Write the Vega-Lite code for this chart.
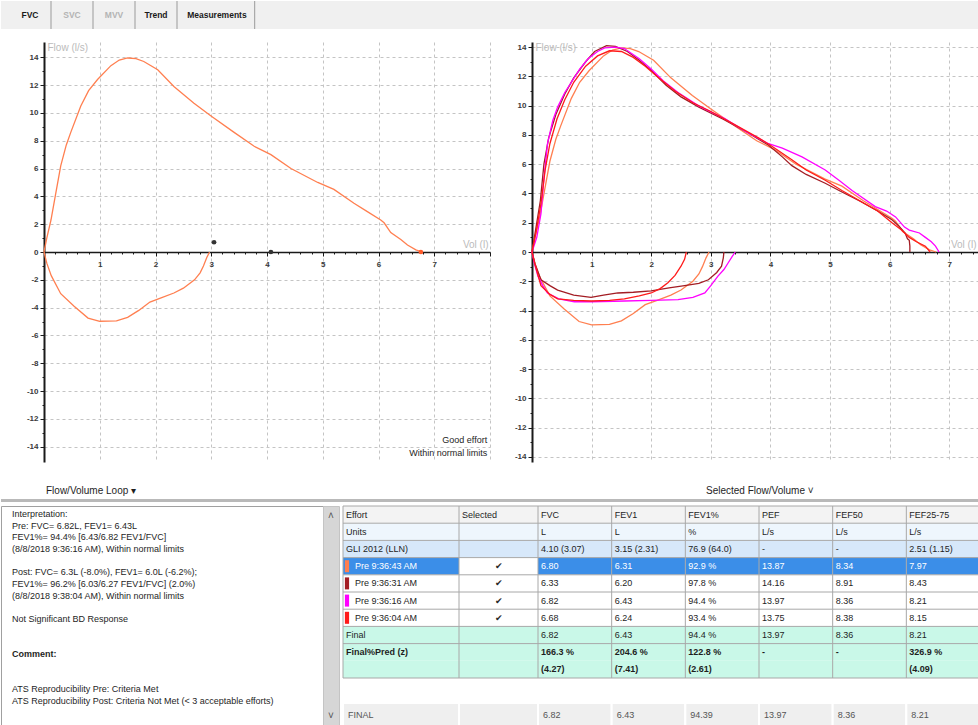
{
  "$schema": "https://vega.github.io/schema/vega-lite/v6.json",
  "padding": 0,
  "background": "#FFFFFF",
  "config": {
    "font": "Liberation Sans",
    "view": {"stroke": null},
    "concat": {"spacing": 0}
  },
  "datasets": {
    "tabs": [
      {"tab": "FVC", "enabled": true},
      {"tab": "SVC", "enabled": false},
      {"tab": "MVV", "enabled": false},
      {"tab": "Trend", "enabled": true},
      {"tab": "Measurements", "enabled": true}
    ],
    "notes": [{"note": "Good effort\nWithin normal limits"}],
    "markers": [
      {"kind": "dot", "vol": 3.05, "flow": 0.7},
      {"kind": "dot", "vol": 4.07, "flow": 0},
      {"kind": "end", "vol": 6.76, "flow": 0}
    ],
    "curves": [
      {"effort":"p43","part":"e","i":0,"vol":0,"flow":0},
      {"effort":"p43","part":"e","i":1,"vol":0.05,"flow":1.0},
      {"effort":"p43","part":"e","i":2,"vol":0.125,"flow":2.3},
      {"effort":"p43","part":"e","i":3,"vol":0.21,"flow":4.2},
      {"effort":"p43","part":"e","i":4,"vol":0.3,"flow":6.2},
      {"effort":"p43","part":"e","i":5,"vol":0.4,"flow":7.7},
      {"effort":"p43","part":"e","i":6,"vol":0.48,"flow":8.6},
      {"effort":"p43","part":"e","i":7,"vol":0.66,"flow":10.5},
      {"effort":"p43","part":"e","i":8,"vol":0.8,"flow":11.6},
      {"effort":"p43","part":"e","i":9,"vol":0.96,"flow":12.4},
      {"effort":"p43","part":"e","i":10,"vol":1.2,"flow":13.4},
      {"effort":"p43","part":"e","i":11,"vol":1.35,"flow":13.8},
      {"effort":"p43","part":"e","i":12,"vol":1.5,"flow":13.95},
      {"effort":"p43","part":"e","i":13,"vol":1.65,"flow":13.9},
      {"effort":"p43","part":"e","i":14,"vol":1.79,"flow":13.7},
      {"effort":"p43","part":"e","i":15,"vol":2.04,"flow":13.1},
      {"effort":"p43","part":"e","i":16,"vol":2.33,"flow":11.9},
      {"effort":"p43","part":"e","i":17,"vol":2.69,"flow":10.7},
      {"effort":"p43","part":"e","i":18,"vol":2.99,"flow":9.8},
      {"effort":"p43","part":"e","i":19,"vol":3.41,"flow":8.6},
      {"effort":"p43","part":"e","i":20,"vol":3.77,"flow":7.6},
      {"effort":"p43","part":"e","i":21,"vol":4.07,"flow":7.0},
      {"effort":"p43","part":"e","i":22,"vol":4.43,"flow":6.0},
      {"effort":"p43","part":"e","i":23,"vol":4.91,"flow":5.0},
      {"effort":"p43","part":"e","i":24,"vol":5.2,"flow":4.5},
      {"effort":"p43","part":"e","i":25,"vol":5.56,"flow":3.5},
      {"effort":"p43","part":"e","i":26,"vol":5.8,"flow":2.9},
      {"effort":"p43","part":"e","i":27,"vol":6.04,"flow":2.3},
      {"effort":"p43","part":"e","i":28,"vol":6.1,"flow":2.1},
      {"effort":"p43","part":"e","i":29,"vol":6.22,"flow":1.4},
      {"effort":"p43","part":"e","i":30,"vol":6.4,"flow":0.9},
      {"effort":"p43","part":"e","i":31,"vol":6.52,"flow":0.5},
      {"effort":"p43","part":"e","i":32,"vol":6.67,"flow":0.15},
      {"effort":"p43","part":"e","i":33,"vol":6.78,"flow":0},
      {"effort":"p43","part":"n","i":0,"vol":0,"flow":0},
      {"effort":"p43","part":"n","i":1,"vol":0.05,"flow":-0.8},
      {"effort":"p43","part":"n","i":2,"vol":0.13,"flow":-1.7},
      {"effort":"p43","part":"n","i":3,"vol":0.3,"flow":-3.0},
      {"effort":"p43","part":"n","i":4,"vol":0.54,"flow":-3.9},
      {"effort":"p43","part":"n","i":5,"vol":0.79,"flow":-4.75},
      {"effort":"p43","part":"n","i":6,"vol":1.0,"flow":-4.98},
      {"effort":"p43","part":"n","i":7,"vol":1.3,"flow":-4.95},
      {"effort":"p43","part":"n","i":8,"vol":1.5,"flow":-4.7},
      {"effort":"p43","part":"n","i":9,"vol":1.7,"flow":-4.2},
      {"effort":"p43","part":"n","i":10,"vol":1.9,"flow":-3.6},
      {"effort":"p43","part":"n","i":11,"vol":2.1,"flow":-3.3},
      {"effort":"p43","part":"n","i":12,"vol":2.33,"flow":-2.95},
      {"effort":"p43","part":"n","i":13,"vol":2.5,"flow":-2.6},
      {"effort":"p43","part":"n","i":14,"vol":2.7,"flow":-2.0},
      {"effort":"p43","part":"n","i":15,"vol":2.8,"flow":-1.5},
      {"effort":"p43","part":"n","i":16,"vol":2.86,"flow":-1.0},
      {"effort":"p43","part":"n","i":17,"vol":2.92,"flow":-0.4},
      {"effort":"p43","part":"n","i":18,"vol":2.97,"flow":0},
      {"effort":"p31","part":"e","i":0,"vol":0,"flow":0},
      {"effort":"p31","part":"e","i":1,"vol":0.06,"flow":1.5},
      {"effort":"p31","part":"e","i":2,"vol":0.14,"flow":3.5},
      {"effort":"p31","part":"e","i":3,"vol":0.2,"flow":6.0},
      {"effort":"p31","part":"e","i":4,"vol":0.28,"flow":7.8},
      {"effort":"p31","part":"e","i":5,"vol":0.4,"flow":9.4},
      {"effort":"p31","part":"e","i":6,"vol":0.55,"flow":10.8},
      {"effort":"p31","part":"e","i":7,"vol":0.7,"flow":11.9},
      {"effort":"p31","part":"e","i":8,"vol":0.9,"flow":13.0},
      {"effort":"p31","part":"e","i":9,"vol":1.05,"flow":13.7},
      {"effort":"p31","part":"e","i":10,"vol":1.25,"flow":14.1},
      {"effort":"p31","part":"e","i":11,"vol":1.4,"flow":14.05},
      {"effort":"p31","part":"e","i":12,"vol":1.6,"flow":13.7},
      {"effort":"p31","part":"e","i":13,"vol":1.8,"flow":13.1},
      {"effort":"p31","part":"e","i":14,"vol":2.0,"flow":12.4},
      {"effort":"p31","part":"e","i":15,"vol":2.25,"flow":11.4},
      {"effort":"p31","part":"e","i":16,"vol":2.5,"flow":10.6},
      {"effort":"p31","part":"e","i":17,"vol":2.8,"flow":9.9},
      {"effort":"p31","part":"e","i":18,"vol":3.2,"flow":9.1},
      {"effort":"p31","part":"e","i":19,"vol":3.6,"flow":8.2},
      {"effort":"p31","part":"e","i":20,"vol":3.97,"flow":7.3},
      {"effort":"p31","part":"e","i":21,"vol":4.2,"flow":6.5},
      {"effort":"p31","part":"e","i":22,"vol":4.36,"flow":5.9},
      {"effort":"p31","part":"e","i":23,"vol":4.6,"flow":5.3},
      {"effort":"p31","part":"e","i":24,"vol":4.92,"flow":4.7},
      {"effort":"p31","part":"e","i":25,"vol":5.2,"flow":4.1},
      {"effort":"p31","part":"e","i":26,"vol":5.49,"flow":3.5},
      {"effort":"p31","part":"e","i":27,"vol":5.8,"flow":2.8},
      {"effort":"p31","part":"e","i":28,"vol":6.04,"flow":2.2},
      {"effort":"p31","part":"e","i":29,"vol":6.15,"flow":1.8},
      {"effort":"p31","part":"e","i":30,"vol":6.26,"flow":1.3},
      {"effort":"p31","part":"e","i":31,"vol":6.3,"flow":0.9},
      {"effort":"p31","part":"e","i":32,"vol":6.33,"flow":0.8},
      {"effort":"p31","part":"e","i":33,"vol":6.34,"flow":0.4},
      {"effort":"p31","part":"e","i":34,"vol":6.34,"flow":0},
      {"effort":"p31","part":"n","i":0,"vol":0,"flow":0},
      {"effort":"p31","part":"n","i":1,"vol":0.05,"flow":-0.8},
      {"effort":"p31","part":"n","i":2,"vol":0.15,"flow":-1.9},
      {"effort":"p31","part":"n","i":3,"vol":0.3,"flow":-2.3},
      {"effort":"p31","part":"n","i":4,"vol":0.43,"flow":-2.6},
      {"effort":"p31","part":"n","i":5,"vol":0.7,"flow":-2.95},
      {"effort":"p31","part":"n","i":6,"vol":0.99,"flow":-3.1},
      {"effort":"p31","part":"n","i":7,"vol":1.2,"flow":-2.95},
      {"effort":"p31","part":"n","i":8,"vol":1.44,"flow":-2.8},
      {"effort":"p31","part":"n","i":9,"vol":1.7,"flow":-2.75},
      {"effort":"p31","part":"n","i":10,"vol":2.0,"flow":-2.65},
      {"effort":"p31","part":"n","i":11,"vol":2.3,"flow":-2.45},
      {"effort":"p31","part":"n","i":12,"vol":2.56,"flow":-2.3},
      {"effort":"p31","part":"n","i":13,"vol":2.8,"flow":-2.15},
      {"effort":"p31","part":"n","i":14,"vol":2.96,"flow":-1.9},
      {"effort":"p31","part":"n","i":15,"vol":3.1,"flow":-1.4},
      {"effort":"p31","part":"n","i":16,"vol":3.18,"flow":-0.97},
      {"effort":"p31","part":"n","i":17,"vol":3.21,"flow":-0.4},
      {"effort":"p31","part":"n","i":18,"vol":3.22,"flow":0},
      {"effort":"p16","part":"e","i":0,"vol":0,"flow":0},
      {"effort":"p16","part":"e","i":1,"vol":0.08,"flow":1.0},
      {"effort":"p16","part":"e","i":2,"vol":0.15,"flow":2.6},
      {"effort":"p16","part":"e","i":3,"vol":0.2,"flow":5.0},
      {"effort":"p16","part":"e","i":4,"vol":0.26,"flow":7.4},
      {"effort":"p16","part":"e","i":5,"vol":0.35,"flow":9.0},
      {"effort":"p16","part":"e","i":6,"vol":0.43,"flow":9.9},
      {"effort":"p16","part":"e","i":7,"vol":0.55,"flow":10.9},
      {"effort":"p16","part":"e","i":8,"vol":0.66,"flow":11.6},
      {"effort":"p16","part":"e","i":9,"vol":0.8,"flow":12.5},
      {"effort":"p16","part":"e","i":10,"vol":0.94,"flow":13.2},
      {"effort":"p16","part":"e","i":11,"vol":1.1,"flow":13.7},
      {"effort":"p16","part":"e","i":12,"vol":1.22,"flow":13.95},
      {"effort":"p16","part":"e","i":13,"vol":1.4,"flow":14.0},
      {"effort":"p16","part":"e","i":14,"vol":1.55,"flow":13.9},
      {"effort":"p16","part":"e","i":15,"vol":1.8,"flow":13.2},
      {"effort":"p16","part":"e","i":16,"vol":2.0,"flow":12.5},
      {"effort":"p16","part":"e","i":17,"vol":2.2,"flow":11.7},
      {"effort":"p16","part":"e","i":18,"vol":2.45,"flow":10.9},
      {"effort":"p16","part":"e","i":19,"vol":2.79,"flow":10.0},
      {"effort":"p16","part":"e","i":20,"vol":3.24,"flow":9.1},
      {"effort":"p16","part":"e","i":21,"vol":3.6,"flow":8.2},
      {"effort":"p16","part":"e","i":22,"vol":3.97,"flow":7.4},
      {"effort":"p16","part":"e","i":23,"vol":4.2,"flow":7.1},
      {"effort":"p16","part":"e","i":24,"vol":4.53,"flow":6.5},
      {"effort":"p16","part":"e","i":25,"vol":4.92,"flow":5.6},
      {"effort":"p16","part":"e","i":26,"vol":5.15,"flow":4.9},
      {"effort":"p16","part":"e","i":27,"vol":5.37,"flow":4.2},
      {"effort":"p16","part":"e","i":28,"vol":5.76,"flow":3.1},
      {"effort":"p16","part":"e","i":29,"vol":5.95,"flow":2.8},
      {"effort":"p16","part":"e","i":30,"vol":6.1,"flow":2.4},
      {"effort":"p16","part":"e","i":31,"vol":6.25,"flow":1.7},
      {"effort":"p16","part":"e","i":32,"vol":6.33,"flow":1.5},
      {"effort":"p16","part":"e","i":33,"vol":6.5,"flow":1.3},
      {"effort":"p16","part":"e","i":34,"vol":6.6,"flow":1.0},
      {"effort":"p16","part":"e","i":35,"vol":6.7,"flow":0.7},
      {"effort":"p16","part":"e","i":36,"vol":6.77,"flow":0.4},
      {"effort":"p16","part":"e","i":37,"vol":6.83,"flow":0},
      {"effort":"p16","part":"n","i":0,"vol":0,"flow":0},
      {"effort":"p16","part":"n","i":1,"vol":0.04,"flow":-0.8},
      {"effort":"p16","part":"n","i":2,"vol":0.1,"flow":-1.65},
      {"effort":"p16","part":"n","i":3,"vol":0.18,"flow":-2.3},
      {"effort":"p16","part":"n","i":4,"vol":0.26,"flow":-2.8},
      {"effort":"p16","part":"n","i":5,"vol":0.45,"flow":-3.2},
      {"effort":"p16","part":"n","i":6,"vol":0.71,"flow":-3.4},
      {"effort":"p16","part":"n","i":7,"vol":1.0,"flow":-3.4},
      {"effort":"p16","part":"n","i":8,"vol":1.55,"flow":-3.35},
      {"effort":"p16","part":"n","i":9,"vol":2.0,"flow":-3.3},
      {"effort":"p16","part":"n","i":10,"vol":2.45,"flow":-3.25},
      {"effort":"p16","part":"n","i":11,"vol":2.7,"flow":-3.1},
      {"effort":"p16","part":"n","i":12,"vol":2.9,"flow":-2.8},
      {"effort":"p16","part":"n","i":13,"vol":3.0,"flow":-2.3},
      {"effort":"p16","part":"n","i":14,"vol":3.12,"flow":-1.65},
      {"effort":"p16","part":"n","i":15,"vol":3.22,"flow":-1.2},
      {"effort":"p16","part":"n","i":16,"vol":3.29,"flow":-0.75},
      {"effort":"p16","part":"n","i":17,"vol":3.36,"flow":-0.3},
      {"effort":"p16","part":"n","i":18,"vol":3.41,"flow":0},
      {"effort":"p04","part":"e","i":0,"vol":0,"flow":0},
      {"effort":"p04","part":"e","i":1,"vol":0.07,"flow":1.4},
      {"effort":"p04","part":"e","i":2,"vol":0.15,"flow":3.3},
      {"effort":"p04","part":"e","i":3,"vol":0.22,"flow":5.6},
      {"effort":"p04","part":"e","i":4,"vol":0.3,"flow":7.4},
      {"effort":"p04","part":"e","i":5,"vol":0.42,"flow":9.1},
      {"effort":"p04","part":"e","i":6,"vol":0.55,"flow":10.4},
      {"effort":"p04","part":"e","i":7,"vol":0.7,"flow":11.6},
      {"effort":"p04","part":"e","i":8,"vol":0.9,"flow":12.7},
      {"effort":"p04","part":"e","i":9,"vol":1.1,"flow":13.4},
      {"effort":"p04","part":"e","i":10,"vol":1.3,"flow":13.75},
      {"effort":"p04","part":"e","i":11,"vol":1.5,"flow":13.7},
      {"effort":"p04","part":"e","i":12,"vol":1.7,"flow":13.3},
      {"effort":"p04","part":"e","i":13,"vol":1.9,"flow":12.7},
      {"effort":"p04","part":"e","i":14,"vol":2.1,"flow":12.0},
      {"effort":"p04","part":"e","i":15,"vol":2.4,"flow":11.0},
      {"effort":"p04","part":"e","i":16,"vol":2.7,"flow":10.2},
      {"effort":"p04","part":"e","i":17,"vol":3.0,"flow":9.6},
      {"effort":"p04","part":"e","i":18,"vol":3.4,"flow":8.7},
      {"effort":"p04","part":"e","i":19,"vol":3.8,"flow":7.8},
      {"effort":"p04","part":"e","i":20,"vol":4.0,"flow":7.3},
      {"effort":"p04","part":"e","i":21,"vol":4.36,"flow":6.3},
      {"effort":"p04","part":"e","i":22,"vol":4.6,"flow":5.6},
      {"effort":"p04","part":"e","i":23,"vol":4.92,"flow":4.9},
      {"effort":"p04","part":"e","i":24,"vol":5.2,"flow":4.2},
      {"effort":"p04","part":"e","i":25,"vol":5.5,"flow":3.5},
      {"effort":"p04","part":"e","i":26,"vol":5.8,"flow":2.8},
      {"effort":"p04","part":"e","i":27,"vol":6.04,"flow":2.0},
      {"effort":"p04","part":"e","i":28,"vol":6.2,"flow":1.5},
      {"effort":"p04","part":"e","i":29,"vol":6.33,"flow":1.0},
      {"effort":"p04","part":"e","i":30,"vol":6.45,"flow":0.7},
      {"effort":"p04","part":"e","i":31,"vol":6.6,"flow":0.4},
      {"effort":"p04","part":"e","i":32,"vol":6.68,"flow":0},
      {"effort":"p04","part":"n","i":0,"vol":0,"flow":0},
      {"effort":"p04","part":"n","i":1,"vol":0.04,"flow":-0.7},
      {"effort":"p04","part":"n","i":2,"vol":0.15,"flow":-2.3},
      {"effort":"p04","part":"n","i":3,"vol":0.3,"flow":-2.9},
      {"effort":"p04","part":"n","i":4,"vol":0.43,"flow":-3.2},
      {"effort":"p04","part":"n","i":5,"vol":0.7,"flow":-3.3},
      {"effort":"p04","part":"n","i":6,"vol":1.0,"flow":-3.35},
      {"effort":"p04","part":"n","i":7,"vol":1.3,"flow":-3.3},
      {"effort":"p04","part":"n","i":8,"vol":1.55,"flow":-3.2},
      {"effort":"p04","part":"n","i":9,"vol":1.8,"flow":-3.0},
      {"effort":"p04","part":"n","i":10,"vol":2.0,"flow":-2.8},
      {"effort":"p04","part":"n","i":11,"vol":2.15,"flow":-2.5},
      {"effort":"p04","part":"n","i":12,"vol":2.28,"flow":-2.1},
      {"effort":"p04","part":"n","i":13,"vol":2.4,"flow":-1.6},
      {"effort":"p04","part":"n","i":14,"vol":2.5,"flow":-0.97},
      {"effort":"p04","part":"n","i":15,"vol":2.56,"flow":-0.5},
      {"effort":"p04","part":"n","i":16,"vol":2.59,"flow":0}
    ],
    "interp": [
      {"line": 0, "text": "Interpretation:"},
      {"line": 1, "text": "Pre: FVC= 6.82L, FEV1= 6.43L"},
      {"line": 2, "text": "FEV1%= 94.4% [6.43/6.82 FEV1/FVC]"},
      {"line": 3, "text": "(8/8/2018 9:36:16 AM), Within normal limits"},
      {"line": 5, "text": "Post: FVC= 6.3L (-8.0%), FEV1= 6.0L (-6.2%);"},
      {"line": 6, "text": "FEV1%= 96.2% [6.03/6.27 FEV1/FVC] (2.0%)"},
      {"line": 7, "text": "(8/8/2018 9:38:04 AM), Within normal limits"},
      {"line": 9, "text": "Not Significant BD Response"},
      {"line": 12, "text": "Comment:"},
      {"line": 15, "text": "ATS Reproducibility Pre: Criteria Met"},
      {"line": 16, "text": "ATS Reproducibility Post: Criteria Not Met (< 3 acceptable efforts)"}
    ],
    "scroll": [
      {"dir": "up", "glyph": "˄"},
      {"dir": "down", "glyph": "˅"}
    ],
    "table": [
      {"row":"hdr","col":"Effort","text":"Effort"},
      {"row":"hdr","col":"Selected","text":"Selected"},
      {"row":"hdr","col":"FVC","text":"FVC"},
      {"row":"hdr","col":"FEV1","text":"FEV1"},
      {"row":"hdr","col":"FEV1%","text":"FEV1%"},
      {"row":"hdr","col":"PEF","text":"PEF"},
      {"row":"hdr","col":"FEF50","text":"FEF50"},
      {"row":"hdr","col":"FEF25-75","text":"FEF25-75"},
      {"row":"units","col":"Effort","text":"Units"},
      {"row":"units","col":"Selected","text":""},
      {"row":"units","col":"FVC","text":"L"},
      {"row":"units","col":"FEV1","text":"L"},
      {"row":"units","col":"FEV1%","text":"%"},
      {"row":"units","col":"PEF","text":"L/s"},
      {"row":"units","col":"FEF50","text":"L/s"},
      {"row":"units","col":"FEF25-75","text":"L/s"},
      {"row":"gli","col":"Effort","text":"GLI 2012 (LLN)"},
      {"row":"gli","col":"Selected","text":""},
      {"row":"gli","col":"FVC","text":"4.10 (3.07)"},
      {"row":"gli","col":"FEV1","text":"3.15 (2.31)"},
      {"row":"gli","col":"FEV1%","text":"76.9 (64.0)"},
      {"row":"gli","col":"PEF","text":"-"},
      {"row":"gli","col":"FEF50","text":"-"},
      {"row":"gli","col":"FEF25-75","text":"2.51 (1.15)"},
      {"row":"p43","col":"Effort","text":"Pre 9:36:43 AM"},
      {"row":"p43","col":"Selected","text":"✔"},
      {"row":"p43","col":"FVC","text":"6.80"},
      {"row":"p43","col":"FEV1","text":"6.31"},
      {"row":"p43","col":"FEV1%","text":"92.9 %"},
      {"row":"p43","col":"PEF","text":"13.87"},
      {"row":"p43","col":"FEF50","text":"8.34"},
      {"row":"p43","col":"FEF25-75","text":"7.97"},
      {"row":"p31","col":"Effort","text":"Pre 9:36:31 AM"},
      {"row":"p31","col":"Selected","text":"✔"},
      {"row":"p31","col":"FVC","text":"6.33"},
      {"row":"p31","col":"FEV1","text":"6.20"},
      {"row":"p31","col":"FEV1%","text":"97.8 %"},
      {"row":"p31","col":"PEF","text":"14.16"},
      {"row":"p31","col":"FEF50","text":"8.91"},
      {"row":"p31","col":"FEF25-75","text":"8.43"},
      {"row":"p16","col":"Effort","text":"Pre 9:36:16 AM"},
      {"row":"p16","col":"Selected","text":"✔"},
      {"row":"p16","col":"FVC","text":"6.82"},
      {"row":"p16","col":"FEV1","text":"6.43"},
      {"row":"p16","col":"FEV1%","text":"94.4 %"},
      {"row":"p16","col":"PEF","text":"13.97"},
      {"row":"p16","col":"FEF50","text":"8.36"},
      {"row":"p16","col":"FEF25-75","text":"8.21"},
      {"row":"p04","col":"Effort","text":"Pre 9:36:04 AM"},
      {"row":"p04","col":"Selected","text":"✔"},
      {"row":"p04","col":"FVC","text":"6.68"},
      {"row":"p04","col":"FEV1","text":"6.24"},
      {"row":"p04","col":"FEV1%","text":"93.4 %"},
      {"row":"p04","col":"PEF","text":"13.75"},
      {"row":"p04","col":"FEF50","text":"8.38"},
      {"row":"p04","col":"FEF25-75","text":"8.15"},
      {"row":"final","col":"Effort","text":"Final"},
      {"row":"final","col":"Selected","text":""},
      {"row":"final","col":"FVC","text":"6.82"},
      {"row":"final","col":"FEV1","text":"6.43"},
      {"row":"final","col":"FEV1%","text":"94.4 %"},
      {"row":"final","col":"PEF","text":"13.97"},
      {"row":"final","col":"FEF50","text":"8.36"},
      {"row":"final","col":"FEF25-75","text":"8.21"},
      {"row":"fp1","col":"Effort","text":"Final%Pred (z)"},
      {"row":"fp1","col":"Selected","text":""},
      {"row":"fp1","col":"FVC","text":"166.3 %"},
      {"row":"fp1","col":"FEV1","text":"204.6 %"},
      {"row":"fp1","col":"FEV1%","text":"122.8 %"},
      {"row":"fp1","col":"PEF","text":"-"},
      {"row":"fp1","col":"FEF50","text":"-"},
      {"row":"fp1","col":"FEF25-75","text":"326.9 %"},
      {"row":"fp2","col":"Effort","text":""},
      {"row":"fp2","col":"Selected","text":""},
      {"row":"fp2","col":"FVC","text":"(4.27)"},
      {"row":"fp2","col":"FEV1","text":"(7.41)"},
      {"row":"fp2","col":"FEV1%","text":"(2.61)"},
      {"row":"fp2","col":"PEF","text":""},
      {"row":"fp2","col":"FEF50","text":""},
      {"row":"fp2","col":"FEF25-75","text":"(4.09)"},
      {"row":"FINAL","col":"Effort","text":"FINAL"},
      {"row":"FINAL","col":"Selected","text":""},
      {"row":"FINAL","col":"FVC","text":"6.82"},
      {"row":"FINAL","col":"FEV1","text":"6.43"},
      {"row":"FINAL","col":"FEV1%","text":"94.39"},
      {"row":"FINAL","col":"PEF","text":"13.97"},
      {"row":"FINAL","col":"FEF50","text":"8.36"},
      {"row":"FINAL","col":"FEF25-75","text":"8.21"}
    ]
  },
  "spacing": 3,
  "vconcat": [
    {
      "spacing": 12,
      "vconcat": [
        {
          "width": 978, "height": 28,
          "view": {"fill": "#F0F0F0", "stroke": null},
          "data": {"name": "tabs"},
          "layer": [
            {
              "transform": [{"filter": "datum.tab !== 'Measurements'"}],
              "mark": {"type": "rule", "color": "#9A9A9A", "strokeWidth": 1},
              "encoding": {
                "x": {"field": "tab", "type": "nominal", "bandPosition": 1, "scale": {"type": "band", "domain": ["FVC","SVC","MVV","Trend","Measurements","Measurements2"], "range": [8, 260], "paddingInner": 0, "paddingOuter": 0}, "axis": null}
              }
            },
            {
              "transform": [{"filter": "datum.tab === 'Measurements'"}],
              "mark": {"type": "rule", "color": "#9A9A9A", "strokeWidth": 1},
              "encoding": {
                "x": {"field": "tab", "type": "nominal", "bandPosition": 1.85, "scale": {"type": "band", "domain": ["FVC","SVC","MVV","Trend","Measurements","Measurements2"], "range": [8, 260], "paddingInner": 0, "paddingOuter": 0}, "axis": null}
              }
            },
            {
              "transform": [{"filter": "datum.tab !== 'Measurements'"}],
              "mark": {"type": "text", "fontSize": 8.5, "fontWeight": "bold"},
              "encoding": {
                "x": {"field": "tab", "type": "nominal", "bandPosition": 0.5, "scale": {"type": "band", "domain": ["FVC","SVC","MVV","Trend","Measurements","Measurements2"], "range": [8, 260], "paddingInner": 0, "paddingOuter": 0}, "axis": null},
                "text": {"field": "tab"},
                "color": {"condition": {"test": "datum.enabled", "value": "#1A1A1A"}, "value": "#B4B4B4"}
              }
            },
            {
              "transform": [{"filter": "datum.tab === 'Measurements'"}],
              "mark": {"type": "text", "fontSize": 8.5, "fontWeight": "bold"},
              "encoding": {
                "x": {"field": "tab", "type": "nominal", "bandPosition": 0.95, "scale": {"type": "band", "domain": ["FVC","SVC","MVV","Trend","Measurements","Measurements2"], "range": [8, 260], "paddingInner": 0, "paddingOuter": 0}, "axis": null},
                "text": {"field": "tab"},
                "color": {"value": "#1A1A1A"}
              }
            }
          ]
        },
        {
          "bounds": "flush",
          "spacing": 0,
          "hconcat": [
            {
              "width": 43, "height": 420,
              "data": {"name": "markers"},
              "mark": {"type": "point", "opacity": 0},
              "encoding": {
                "y": {"field": "flow", "type": "quantitative", "scale": {"domain": [-15.1, 15.1], "nice": false, "zero": false},
                  "axis": {"orient": "left", "offset": -43, "tickCount": 1000,
                    "values": [-14,-13,-12,-11,-10,-9,-8,-7,-6,-5,-4,-3,-2,-1,0,1,2,3,4,5,6,7,8,9,10,11,12,13,14],
                    "title": null, "domain": false, "grid": false,
                    "labelExpr": "datum.value % 2 === 0 ? datum.value : ''",
                    "labelFontSize": 8, "labelFontWeight": "bold", "labelColor": "#3A3A3A", "labelPadding": 2, "labelOverlap": false, "labelBound": false, "labelFlush": false,
                    "tickColor": "#1A1A1A", "tickWidth": 1,
                    "tickSize": {"condition": {"test": "datum.value % 2 === 0", "value": 4}, "value": 2}}}
              }
            },
            {
              "width": 446, "height": 420,
              "title": {"text": "Flow/Volume Loop                    ▾", "orient": "bottom", "anchor": "start", "frame": "group", "offset": 24, "dx": 2, "fontSize": 10, "fontWeight": "normal", "color": "#1E1E1E"},
              "layer": [
                {
                  "data": {"name": "curves"},
                  "transform": [{"filter": "datum.effort === 'p43'"}],
                  "mark": {"type": "line", "strokeWidth": 1.3},
                  "encoding": {
                    "x": {"field": "vol", "type": "quantitative", "scale": {"domain": [0, 8], "nice": false, "zero": false},
                      "axis": {"orient": "bottom", "offset": -210, "tickCount": 1000,
                        "values": [0,0.2,0.4,0.6,0.8,1,1.2,1.4,1.6,1.8,2,2.2,2.4,2.6,2.8,3,3.2,3.4,3.6,3.8,4,4.2,4.4,4.6,4.8,5,5.2,5.4,5.6,5.8,6,6.2,6.4,6.6,6.8,7,7.2,7.4,7.6,7.8,8],
                        "title": "Vol (l)", "titleX": 444, "titleY": -3, "titleAlign": "right", "titleBaseline": "bottom", "titleAngle": 0, "titleColor": "#BBBBBB", "titleFontSize": 10, "titleFontWeight": "normal",
                        "labelExpr": "(datum.value % 1 === 0 && datum.value > 0 && datum.value < 8) ? datum.value : ''",
                        "labelFontSize": 8, "labelFontWeight": "bold", "labelColor": "#3A3A3A", "labelPadding": 4, "labelOverlap": false, "labelBound": false, "labelFlush": false,
                        "grid": true, "gridColor": "#C4C4C4", "gridDash": [3, 3], "gridWidth": 1,
                        "gridOpacity": {"condition": {"test": "datum.value % 1 === 0 && datum.value > 0", "value": 1}, "value": 0},
                        "domainColor": "#1A1A1A", "domainWidth": 1.5, "tickColor": "#1A1A1A", "tickWidth": 1,
                        "tickSize": {"condition": {"test": "datum.value % 1 === 0", "value": 4}, "value": 2}}},
                    "y": {"field": "flow", "type": "quantitative", "scale": {"domain": [-15.1, 15.1], "nice": false, "zero": false},
                      "axis": {"orient": "left", "minExtent": 0, "maxExtent": 0, "tickCount": 1000,
                        "values": [-14,-12,-10,-8,-6,-4,-2,0,2,4,6,8,10,12,14],
                        "title": "Flow (l/s)", "titleX": 3, "titleY": 0, "titleAngle": 0, "titleAlign": "left", "titleBaseline": "top", "titleColor": "#BBBBBB", "titleFontSize": 10, "titleFontWeight": "normal",
                        "labels": false, "ticks": false,
                        "grid": true, "gridColor": "#C4C4C4", "gridDash": [3, 3], "gridWidth": 1,
                        "domainColor": "#1A1A1A", "domainWidth": 2}},
                    "color": {"field": "effort", "type": "nominal", "scale": {"domain": ["p43","p31","p16","p04"], "range": ["#FF7F50","#A31D24","#FF00FF","#FF1A1A"]}, "legend": null},
                    "detail": {"field": "part", "type": "nominal"},
                    "order": {"field": "i", "type": "quantitative"}
                  }
                },
                {
                  "data": {"name": "markers"},
                  "mark": {"type": "point", "filled": true, "size": 22, "opacity": 1},
                  "encoding": {
                    "x": {"field": "vol", "type": "quantitative"},
                    "y": {"field": "flow", "type": "quantitative"},
                    "color": {"condition": {"test": "datum.kind === 'end'", "value": "#FF5A2A"}, "value": "#333333"}
                  }
                },
                {
                  "data": {"name": "notes"},
                  "mark": {"type": "text", "align": "right", "baseline": "bottom", "fontSize": 9, "lineBreak": "\n", "lineHeight": 13, "color": "#1E1E1E"},
                  "encoding": {
                    "x": {"datum": 7.95, "type": "quantitative"},
                    "y": {"datum": -13.9, "type": "quantitative"},
                    "text": {"field": "note"}
                  }
                }
              ]
            },
            {
              "width": 42, "height": 420,
              "data": {"name": "markers"},
              "mark": {"type": "point", "opacity": 0},
              "encoding": {
                "y": {"field": "flow", "type": "quantitative", "scale": {"domain": [-14.35, 14.35], "nice": false, "zero": false},
                  "axis": {"orient": "left", "offset": -42, "tickCount": 1000,
                    "values": [-14,-13,-12,-11,-10,-9,-8,-7,-6,-5,-4,-3,-2,-1,0,1,2,3,4,5,6,7,8,9,10,11,12,13,14],
                    "title": null, "domain": false, "grid": false,
                    "labelExpr": "datum.value % 2 === 0 ? datum.value : ''",
                    "labelFontSize": 8, "labelFontWeight": "bold", "labelColor": "#3A3A3A", "labelPadding": 2, "labelOverlap": false, "labelBound": false, "labelFlush": false,
                    "tickColor": "#1A1A1A", "tickWidth": 1,
                    "tickSize": {"condition": {"test": "datum.value % 2 === 0", "value": 4}, "value": 2}}}
              }
            },
            {
              "width": 447, "height": 420,
              "title": {"text": "Selected Flow/Volume              ˅", "orient": "bottom", "anchor": "start", "frame": "group", "offset": 24, "dx": 174, "fontSize": 10, "fontWeight": "normal", "color": "#1E1E1E"},
              "data": {"name": "curves"},
              "mark": {"type": "line", "strokeWidth": 1.3},
              "encoding": {
                "x": {"field": "vol", "type": "quantitative", "scale": {"domain": [0, 7.5], "nice": false, "zero": false},
                  "axis": {"orient": "bottom", "offset": -210, "tickCount": 1000,
                    "values": [0,0.2,0.4,0.6,0.8,1,1.2,1.4,1.6,1.8,2,2.2,2.4,2.6,2.8,3,3.2,3.4,3.6,3.8,4,4.2,4.4,4.6,4.8,5,5.2,5.4,5.6,5.8,6,6.2,6.4,6.6,6.8,7,7.2,7.4],
                    "title": "Vol (l)", "titleX": 444, "titleY": -3, "titleAlign": "right", "titleBaseline": "bottom", "titleAngle": 0, "titleColor": "#BBBBBB", "titleFontSize": 10, "titleFontWeight": "normal",
                    "labelExpr": "(datum.value % 1 === 0 && datum.value > 0) ? datum.value : ''",
                    "labelFontSize": 8, "labelFontWeight": "bold", "labelColor": "#3A3A3A", "labelPadding": 4, "labelOverlap": false, "labelBound": false, "labelFlush": false,
                    "grid": true, "gridColor": "#C4C4C4", "gridDash": [3, 3], "gridWidth": 1,
                    "gridOpacity": {"condition": {"test": "datum.value % 1 === 0 && datum.value > 0", "value": 1}, "value": 0},
                    "domainColor": "#1A1A1A", "domainWidth": 1.5, "tickColor": "#1A1A1A", "tickWidth": 1,
                    "tickSize": {"condition": {"test": "datum.value % 1 === 0", "value": 4}, "value": 2}}},
                "y": {"field": "flow", "type": "quantitative", "scale": {"domain": [-14.35, 14.35], "nice": false, "zero": false},
                  "axis": {"orient": "left", "minExtent": 0, "maxExtent": 0, "tickCount": 1000,
                    "values": [-14,-12,-10,-8,-6,-4,-2,0,2,4,6,8,10,12,14],
                    "title": "Flow (l/s)", "titleX": 3, "titleY": 0, "titleAngle": 0, "titleAlign": "left", "titleBaseline": "top", "titleColor": "#BBBBBB", "titleFontSize": 10, "titleFontWeight": "normal",
                    "labels": false, "ticks": false,
                    "grid": true, "gridColor": "#C4C4C4", "gridDash": [3, 3], "gridWidth": 1,
                    "domainColor": "#1A1A1A", "domainWidth": 2}},
                "color": {"field": "effort", "type": "nominal", "scale": {"domain": ["p43","p31","p16","p04"], "range": ["#FF7F50","#A31D24","#FF00FF","#FF1A1A"]}, "legend": null},
                "detail": {"field": "part", "type": "nominal"},
                "order": {"field": "i", "type": "quantitative"}
              }
            }
          ]
        }
      ]
    },
    {
      "width": 978, "height": 3,
      "view": {"fill": "#B9B9B9", "stroke": null},
      "data": {"name": "scroll"},
      "mark": {"type": "point", "opacity": 0, "size": 0}
    },
    {
      "spacing": 2,
      "hconcat": [
        {
          "bounds": "flush",
          "spacing": 0,
          "hconcat": [
            {
              "width": 322, "height": 220,
              "view": {"stroke": "#A0A0A0", "fill": "#FFFFFF"},
              "data": {"name": "interp"},
              "layer": [
                {
                  "transform": [{"filter": "datum.text !== 'Comment:'"}],
                  "mark": {"type": "text", "align": "left", "dx": 11, "fontSize": 9, "color": "#1E1E1E"},
                  "encoding": {
                    "x": {"datum": 0, "type": "quantitative", "scale": {"domain": [0, 1]}, "axis": null},
                    "y": {"field": "line", "type": "quantitative", "scale": {"domain": [-0.684, 18.14], "reverse": true, "nice": false, "zero": false}, "axis": null},
                    "text": {"field": "text"}
                  }
                },
                {
                  "transform": [{"filter": "datum.text === 'Comment:'"}],
                  "mark": {"type": "text", "align": "left", "dx": 11, "fontSize": 9, "fontWeight": "bold", "color": "#1E1E1E"},
                  "encoding": {
                    "x": {"datum": 0, "type": "quantitative", "scale": {"domain": [0, 1]}, "axis": null},
                    "y": {"field": "line", "type": "quantitative", "scale": {"domain": [-0.684, 18.14], "reverse": true, "nice": false, "zero": false}, "axis": null},
                    "text": {"field": "text"}
                  }
                }
              ]
            },
            {
              "width": 16, "height": 220,
              "view": {"fill": "#D6D6D6", "stroke": "#C4C4C4"},
              "data": {"name": "scroll"},
              "mark": {"type": "text", "fontSize": 10, "color": "#505050"},
              "encoding": {
                "y": {"field": "dir", "type": "nominal", "scale": {"type": "point", "domain": ["up", "down"], "padding": 0.05}, "axis": null},
                "text": {"field": "glyph"}
              }
            }
          ]
        },
        {
          "spacing": 0,
          "vconcat": [
            {
              "bounds": "flush",
              "spacing": 0,
              "hconcat": [
                {
                  "width": 116, "height": 172,
                  "data": {"name": "table"},
                  "transform": [{"filter": "datum.col === 'Effort' && datum.row !== 'FINAL'"}],
                  "layer": [
                    {
                      "mark": {"type": "rect"},
                      "encoding": {
                        "x": {"field": "col", "type": "nominal", "scale": {"type": "band", "domain": ["Effort"], "paddingInner": 0, "paddingOuter": 0}, "axis": null},
                        "y": {"field": "row", "type": "nominal", "scale": {"type": "band", "domain": ["hdr","units","gli","p43","p31","p16","p04","final","fp1","fp2"], "paddingInner": 0, "paddingOuter": 0}, "axis": null},
                        "fill": {"condition": {"test": "datum.row === 'p43' && datum.col === 'Selected'", "value": "#FFFFFF"}, "field": "row", "type": "nominal", "scale": {"domain": ["hdr","units","gli","p43","p31","p16","p04","final","fp1","fp2"], "range": ["#F3F3F3","#EEF6FD","#D7E8FA","#3B8EE8","#FFFFFF","#FFFFFF","#FFFFFF","#C9F8E8","#C9F8E8","#C9F8E8"]}, "legend": null}
                      }
                    },
                    {
                      "transform": [{"filter": "datum.row !== 'fp2'"}],
                      "mark": {"type": "rule", "color": "#A8A8A8"},
                      "encoding": {"y": {"field": "row", "type": "nominal", "bandPosition": 0, "scale": {"type": "band", "domain": ["hdr","units","gli","p43","p31","p16","p04","final","fp1","fp2"], "paddingInner": 0, "paddingOuter": 0}, "axis": null}}
                    },
                    {
                      "transform": [{"filter": "datum.row === 'fp2'"}],
                      "mark": {"type": "rule", "color": "#A8A8A8"},
                      "encoding": {"y": {"field": "row", "type": "nominal", "bandPosition": 1, "scale": {"type": "band", "domain": ["hdr","units","gli","p43","p31","p16","p04","final","fp1","fp2"], "paddingInner": 0, "paddingOuter": 0}, "axis": null}}
                    },
                    {
                      "transform": [{"filter": "datum.row === 'hdr'"}],
                      "mark": {"type": "rule", "color": "#A8A8A8"},
                      "encoding": {"x": {"field": "col", "type": "nominal", "bandPosition": 0, "scale": {"type": "band", "domain": ["Effort"], "paddingInner": 0, "paddingOuter": 0}, "axis": null}}
                    },
                    {
                      "transform": [{"filter": "indexof(['hdr','units','gli','final'], datum.row) >= 0"}],
                      "mark": {"type": "text", "align": "left", "dx": 3, "fontSize": 9},
                      "encoding": {
                        "x": {"field": "col", "type": "nominal", "bandPosition": 0, "scale": {"type": "band", "domain": ["Effort"], "paddingInner": 0, "paddingOuter": 0}, "axis": null},
                        "y": {"field": "row", "type": "nominal", "bandPosition": 0.5, "scale": {"type": "band", "domain": ["hdr","units","gli","p43","p31","p16","p04","final","fp1","fp2"], "paddingInner": 0, "paddingOuter": 0}, "axis": null},
                        "text": {"field": "text"},
                        "color": {"value": "#1E1E1E"}
                      }
                    },
                    {
                      "transform": [{"filter": "datum.row === 'fp1'"}],
                      "mark": {"type": "text", "align": "left", "dx": 3, "fontSize": 9, "fontWeight": "bold"},
                      "encoding": {
                        "x": {"field": "col", "type": "nominal", "bandPosition": 0, "scale": {"type": "band", "domain": ["Effort"], "paddingInner": 0, "paddingOuter": 0}, "axis": null},
                        "y": {"field": "row", "type": "nominal", "bandPosition": 0.5, "scale": {"type": "band", "domain": ["hdr","units","gli","p43","p31","p16","p04","final","fp1","fp2"], "paddingInner": 0, "paddingOuter": 0}, "axis": null},
                        "text": {"field": "text"},
                        "color": {"value": "#1E1E1E"}
                      }
                    },
                    {
                      "transform": [{"filter": "indexof(['p43','p31','p16','p04'], datum.row) >= 0"}],
                      "mark": {"type": "text", "align": "left", "dx": 12, "fontSize": 9},
                      "encoding": {
                        "x": {"field": "col", "type": "nominal", "bandPosition": 0, "scale": {"type": "band", "domain": ["Effort"], "paddingInner": 0, "paddingOuter": 0}, "axis": null},
                        "y": {"field": "row", "type": "nominal", "bandPosition": 0.5, "scale": {"type": "band", "domain": ["hdr","units","gli","p43","p31","p16","p04","final","fp1","fp2"], "paddingInner": 0, "paddingOuter": 0}, "axis": null},
                        "text": {"field": "text"},
                        "color": {"condition": {"test": "datum.row === 'p43'", "value": "#FFFFFF"}, "value": "#1E1E1E"}
                      }
                    },
                    {
                      "transform": [{"filter": "indexof(['p43','p31','p16','p04'], datum.row) >= 0"}],
                      "mark": {"type": "point", "filled": true, "opacity": 1, "shape": "M-0.35,-1L0.35,-1L0.35,1L-0.35,1Z", "size": 144, "xOffset": 4},
                      "encoding": {
                        "x": {"field": "col", "type": "nominal", "bandPosition": 0, "scale": {"type": "band", "domain": ["Effort"], "paddingInner": 0, "paddingOuter": 0}, "axis": null},
                        "y": {"field": "row", "type": "nominal", "bandPosition": 0.5, "scale": {"type": "band", "domain": ["hdr","units","gli","p43","p31","p16","p04","final","fp1","fp2"], "paddingInner": 0, "paddingOuter": 0}, "axis": null},
                        "color": {"field": "row", "type": "nominal", "scale": {"domain": ["p43","p31","p16","p04"], "range": ["#FF7F50","#A31D24","#FF00FF","#FF1A1A"]}, "legend": null}
                      }
                    }
                  ]
                },
                {
                  "width": 79, "height": 172,
                  "data": {"name": "table"},
                  "transform": [{"filter": "datum.col === 'Selected' && datum.row !== 'FINAL'"}],
                  "layer": [
                    {
                      "mark": {"type": "rect"},
                      "encoding": {
                        "x": {"field": "col", "type": "nominal", "scale": {"type": "band", "domain": ["Selected"], "paddingInner": 0, "paddingOuter": 0}, "axis": null},
                        "y": {"field": "row", "type": "nominal", "scale": {"type": "band", "domain": ["hdr","units","gli","p43","p31","p16","p04","final","fp1","fp2"], "paddingInner": 0, "paddingOuter": 0}, "axis": null},
                        "fill": {"condition": {"test": "datum.row === 'p43' && datum.col === 'Selected'", "value": "#FFFFFF"}, "field": "row", "type": "nominal", "scale": {"domain": ["hdr","units","gli","p43","p31","p16","p04","final","fp1","fp2"], "range": ["#F3F3F3","#EEF6FD","#D7E8FA","#3B8EE8","#FFFFFF","#FFFFFF","#FFFFFF","#C9F8E8","#C9F8E8","#C9F8E8"]}, "legend": null}
                      }
                    },
                    {
                      "transform": [{"filter": "datum.row !== 'fp2'"}],
                      "mark": {"type": "rule", "color": "#A8A8A8"},
                      "encoding": {"y": {"field": "row", "type": "nominal", "bandPosition": 0, "scale": {"type": "band", "domain": ["hdr","units","gli","p43","p31","p16","p04","final","fp1","fp2"], "paddingInner": 0, "paddingOuter": 0}, "axis": null}}
                    },
                    {
                      "transform": [{"filter": "datum.row === 'fp2'"}],
                      "mark": {"type": "rule", "color": "#A8A8A8"},
                      "encoding": {"y": {"field": "row", "type": "nominal", "bandPosition": 1, "scale": {"type": "band", "domain": ["hdr","units","gli","p43","p31","p16","p04","final","fp1","fp2"], "paddingInner": 0, "paddingOuter": 0}, "axis": null}}
                    },
                    {
                      "transform": [{"filter": "datum.row === 'hdr'"}],
                      "mark": {"type": "rule", "color": "#A8A8A8"},
                      "encoding": {"x": {"field": "col", "type": "nominal", "bandPosition": 0, "scale": {"type": "band", "domain": ["Selected"], "paddingInner": 0, "paddingOuter": 0}, "axis": null}}
                    },
                    {
                      "transform": [{"filter": "datum.row === 'hdr'"}],
                      "mark": {"type": "text", "align": "left", "dx": 3, "fontSize": 9, "color": "#1E1E1E"},
                      "encoding": {
                        "x": {"field": "col", "type": "nominal", "bandPosition": 0, "scale": {"type": "band", "domain": ["Selected"], "paddingInner": 0, "paddingOuter": 0}, "axis": null},
                        "y": {"field": "row", "type": "nominal", "bandPosition": 0.5, "scale": {"type": "band", "domain": ["hdr","units","gli","p43","p31","p16","p04","final","fp1","fp2"], "paddingInner": 0, "paddingOuter": 0}, "axis": null},
                        "text": {"field": "text"}
                      }
                    },
                    {
                      "transform": [{"filter": "datum.text === '✔'"}],
                      "mark": {"type": "text", "align": "center", "fontSize": 9, "color": "#2A2A2A"},
                      "encoding": {
                        "x": {"field": "col", "type": "nominal", "bandPosition": 0.5, "scale": {"type": "band", "domain": ["Selected"], "paddingInner": 0, "paddingOuter": 0}, "axis": null},
                        "y": {"field": "row", "type": "nominal", "bandPosition": 0.5, "scale": {"type": "band", "domain": ["hdr","units","gli","p43","p31","p16","p04","final","fp1","fp2"], "paddingInner": 0, "paddingOuter": 0}, "axis": null},
                        "text": {"field": "text"}
                      }
                    }
                  ]
                },
                {
                  "width": 442, "height": 172,
                  "data": {"name": "table"},
                  "transform": [{"filter": "datum.col !== 'Effort' && datum.col !== 'Selected' && datum.row !== 'FINAL'"}],
                  "layer": [
                    {
                      "mark": {"type": "rect"},
                      "encoding": {
                        "x": {"field": "col", "type": "nominal", "scale": {"type": "band", "domain": ["FVC","FEV1","FEV1%","PEF","FEF50","FEF25-75"], "paddingInner": 0, "paddingOuter": 0}, "axis": null},
                        "y": {"field": "row", "type": "nominal", "scale": {"type": "band", "domain": ["hdr","units","gli","p43","p31","p16","p04","final","fp1","fp2"], "paddingInner": 0, "paddingOuter": 0}, "axis": null},
                        "fill": {"condition": {"test": "datum.row === 'p43' && datum.col === 'Selected'", "value": "#FFFFFF"}, "field": "row", "type": "nominal", "scale": {"domain": ["hdr","units","gli","p43","p31","p16","p04","final","fp1","fp2"], "range": ["#F3F3F3","#EEF6FD","#D7E8FA","#3B8EE8","#FFFFFF","#FFFFFF","#FFFFFF","#C9F8E8","#C9F8E8","#C9F8E8"]}, "legend": null}
                      }
                    },
                    {
                      "transform": [{"filter": "datum.row !== 'fp2' && datum.col === 'FVC'"}],
                      "mark": {"type": "rule", "color": "#A8A8A8"},
                      "encoding": {"y": {"field": "row", "type": "nominal", "bandPosition": 0, "scale": {"type": "band", "domain": ["hdr","units","gli","p43","p31","p16","p04","final","fp1","fp2"], "paddingInner": 0, "paddingOuter": 0}, "axis": null}}
                    },
                    {
                      "transform": [{"filter": "datum.row === 'fp2' && datum.col === 'FVC'"}],
                      "mark": {"type": "rule", "color": "#A8A8A8"},
                      "encoding": {"y": {"field": "row", "type": "nominal", "bandPosition": 1, "scale": {"type": "band", "domain": ["hdr","units","gli","p43","p31","p16","p04","final","fp1","fp2"], "paddingInner": 0, "paddingOuter": 0}, "axis": null}}
                    },
                    {
                      "transform": [{"filter": "datum.row === 'hdr'"}],
                      "mark": {"type": "rule", "color": "#A8A8A8"},
                      "encoding": {"x": {"field": "col", "type": "nominal", "bandPosition": 0, "scale": {"type": "band", "domain": ["FVC","FEV1","FEV1%","PEF","FEF50","FEF25-75"], "paddingInner": 0, "paddingOuter": 0}, "axis": null}}
                    },
                    {
                      "transform": [{"filter": "datum.text !== '' && datum.row !== 'fp1' && datum.row !== 'fp2'"}],
                      "mark": {"type": "text", "align": "left", "dx": 3, "fontSize": 9},
                      "encoding": {
                        "x": {"field": "col", "type": "nominal", "bandPosition": 0, "scale": {"type": "band", "domain": ["FVC","FEV1","FEV1%","PEF","FEF50","FEF25-75"], "paddingInner": 0, "paddingOuter": 0}, "axis": null},
                        "y": {"field": "row", "type": "nominal", "bandPosition": 0.5, "scale": {"type": "band", "domain": ["hdr","units","gli","p43","p31","p16","p04","final","fp1","fp2"], "paddingInner": 0, "paddingOuter": 0}, "axis": null},
                        "text": {"field": "text"},
                        "color": {"condition": {"test": "datum.row === 'p43'", "value": "#FFFFFF"}, "value": "#1E1E1E"}
                      }
                    },
                    {
                      "transform": [{"filter": "datum.text !== '' && (datum.row === 'fp1' || datum.row === 'fp2')"}],
                      "mark": {"type": "text", "align": "left", "dx": 3, "fontSize": 9, "fontWeight": "bold", "color": "#1E1E1E"},
                      "encoding": {
                        "x": {"field": "col", "type": "nominal", "bandPosition": 0, "scale": {"type": "band", "domain": ["FVC","FEV1","FEV1%","PEF","FEF50","FEF25-75"], "paddingInner": 0, "paddingOuter": 0}, "axis": null},
                        "y": {"field": "row", "type": "nominal", "bandPosition": 0.5, "scale": {"type": "band", "domain": ["hdr","units","gli","p43","p31","p16","p04","final","fp1","fp2"], "paddingInner": 0, "paddingOuter": 0}, "axis": null},
                        "text": {"field": "text"}
                      }
                    }
                  ]
                }
              ]
            },
            {
              "bounds": "flush",
              "spacing": 0,
              "hconcat": [
                {
                  "width": 116, "height": 48,
                  "data": {"name": "table"},
                  "transform": [{"filter": "datum.row === 'FINAL' && datum.col === 'Effort'"}],
                  "layer": [
                    {
                      "mark": {"type": "rect", "fill": "#EFEFEF", "stroke": "#FFFFFF", "strokeWidth": 2},
                      "encoding": {
                        "x": {"field": "col", "type": "nominal", "scale": {"type": "band", "domain": ["Effort"], "paddingInner": 0, "paddingOuter": 0}, "axis": null},
                        "y": {"field": "row", "type": "nominal", "scale": {"type": "band", "domain": ["blank", "FINAL"], "paddingInner": 0, "paddingOuter": 0}, "axis": null}
                      }
                    },
                    {
                      "mark": {"type": "text", "align": "left", "dx": 5, "fontSize": 9, "color": "#555555"},
                      "encoding": {
                        "x": {"field": "col", "type": "nominal", "bandPosition": 0, "scale": {"type": "band", "domain": ["Effort"], "paddingInner": 0, "paddingOuter": 0}, "axis": null},
                        "y": {"field": "row", "type": "nominal", "bandPosition": 0.5, "scale": {"type": "band", "domain": ["blank", "FINAL"], "paddingInner": 0, "paddingOuter": 0}, "axis": null},
                        "text": {"field": "text"}
                      }
                    }
                  ]
                },
                {
                  "width": 79, "height": 48,
                  "data": {"name": "table"},
                  "transform": [{"filter": "datum.row === 'FINAL' && datum.col === 'Selected'"}],
                  "mark": {"type": "rect", "fill": "#EFEFEF", "stroke": "#FFFFFF", "strokeWidth": 2},
                  "encoding": {
                    "x": {"field": "col", "type": "nominal", "scale": {"type": "band", "domain": ["Selected"], "paddingInner": 0, "paddingOuter": 0}, "axis": null},
                    "y": {"field": "row", "type": "nominal", "scale": {"type": "band", "domain": ["blank", "FINAL"], "paddingInner": 0, "paddingOuter": 0}, "axis": null}
                  }
                },
                {
                  "width": 442, "height": 48,
                  "data": {"name": "table"},
                  "transform": [{"filter": "datum.row === 'FINAL' && datum.col !== 'Effort' && datum.col !== 'Selected'"}],
                  "layer": [
                    {
                      "mark": {"type": "rect", "fill": "#EFEFEF", "stroke": "#FFFFFF", "strokeWidth": 2},
                      "encoding": {
                        "x": {"field": "col", "type": "nominal", "scale": {"type": "band", "domain": ["FVC","FEV1","FEV1%","PEF","FEF50","FEF25-75"], "paddingInner": 0, "paddingOuter": 0}, "axis": null},
                        "y": {"field": "row", "type": "nominal", "scale": {"type": "band", "domain": ["blank", "FINAL"], "paddingInner": 0, "paddingOuter": 0}, "axis": null}
                      }
                    },
                    {
                      "mark": {"type": "text", "align": "left", "dx": 5, "fontSize": 9, "color": "#555555"},
                      "encoding": {
                        "x": {"field": "col", "type": "nominal", "bandPosition": 0, "scale": {"type": "band", "domain": ["FVC","FEV1","FEV1%","PEF","FEF50","FEF25-75"], "paddingInner": 0, "paddingOuter": 0}, "axis": null},
                        "y": {"field": "row", "type": "nominal", "bandPosition": 0.5, "scale": {"type": "band", "domain": ["blank", "FINAL"], "paddingInner": 0, "paddingOuter": 0}, "axis": null},
                        "text": {"field": "text"}
                      }
                    }
                  ]
                }
              ]
            }
          ]
        }
      ]
    }
  ]
}
